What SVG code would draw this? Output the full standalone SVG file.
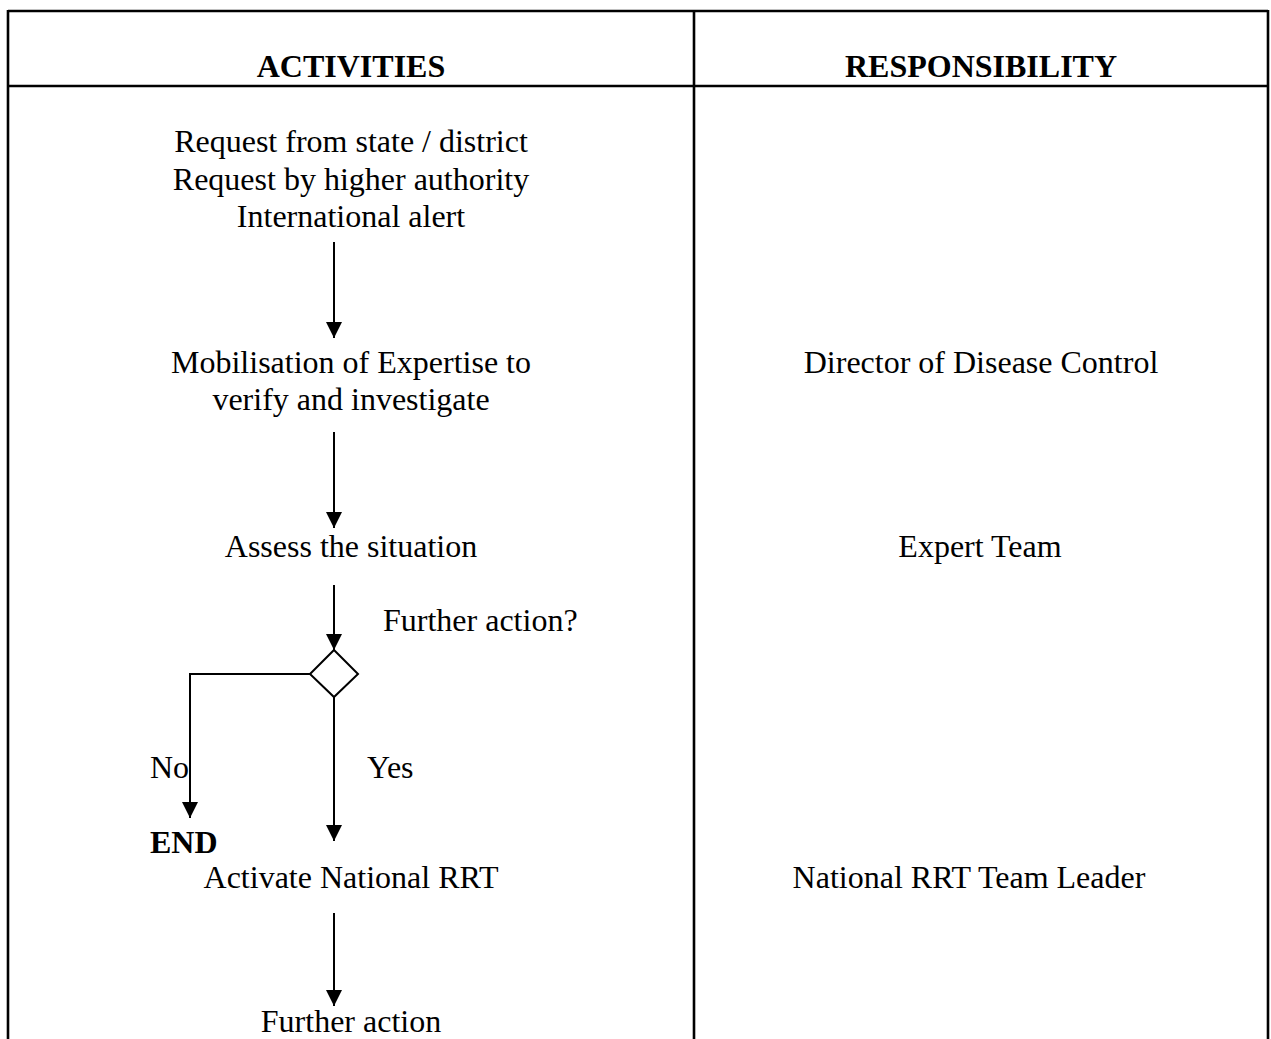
<svg xmlns="http://www.w3.org/2000/svg" width="1271" height="1039" viewBox="0 0 1271 1039">
  <style>
    .grid { stroke: #000; stroke-width: 2.6; fill: none; }
    .txt { font-family: "Liberation Serif", "Times New Roman", serif; font-size: 32px; fill: #000; }
    .mid { text-anchor: middle; }
    .bold { font-weight: bold; }
    .edge { stroke: #000; stroke-width: 2; fill: none; }
  </style>
  <defs>
    <marker id="arrow" markerUnits="userSpaceOnUse" markerWidth="16" markerHeight="16" refX="16" refY="8" orient="auto">
      <path d="M0,0 L16,8 L0,16 z" fill="#000"/>
    </marker>
  </defs>
  <rect width="1271" height="1039" fill="#fff"/>

  <!-- table frame -->
  <g id="table">
    <line class="grid" x1="8" y1="11" x2="1268" y2="11"/>
    <line class="grid" x1="8" y1="86" x2="1268" y2="86"/>
    <line class="grid" x1="8" y1="10" x2="8" y2="1039"/>
    <line class="grid" x1="694" y1="10" x2="694" y2="1039"/>
    <line class="grid" x1="1268" y1="10" x2="1268" y2="1039"/>
    <text class="txt mid bold" x="351" y="77">ACTIVITIES</text>
    <text class="txt mid bold" x="981" y="77">RESPONSIBILITY</text>
  </g>

  <!-- activity nodes -->
  <g id="request">
    <text class="txt mid" x="351" y="152">Request from state / district</text>
    <text class="txt mid" x="351" y="190">Request by higher authority</text>
    <text class="txt mid" x="351" y="227">International alert</text>
  </g>
  <g id="mobilisation">
    <text class="txt mid" x="351" y="373">Mobilisation of Expertise to</text>
    <text class="txt mid" x="351" y="410">verify and investigate</text>
  </g>
  <g id="assess">
    <text class="txt mid" x="351" y="557">Assess the situation</text>
  </g>
  <g id="decision">
    <polygon class="edge" points="334,650 358,674 334,697 310,674"/>
    <text class="txt" x="383" y="631">Further action?</text>
  </g>
  <g id="end">
    <text class="txt bold" x="150" y="853">END</text>
  </g>
  <g id="activate">
    <text class="txt mid" x="351" y="888">Activate National RRT</text>
  </g>
  <g id="further">
    <text class="txt mid" x="351" y="1032">Further action</text>
  </g>

  <!-- responsibility column -->
  <g id="director">
    <text class="txt mid" x="981" y="373">Director of Disease Control</text>
  </g>
  <g id="expert-team">
    <text class="txt mid" x="980" y="557">Expert Team</text>
  </g>
  <g id="team-leader">
    <text class="txt mid" x="969" y="888">National RRT Team Leader</text>
  </g>

  <!-- connectors -->
  <g id="connectors">
    <line class="edge" x1="334" y1="242" x2="334" y2="338" marker-end="url(#arrow)"/>
    <line class="edge" x1="334" y1="432" x2="334" y2="528" marker-end="url(#arrow)"/>
    <line class="edge" x1="334" y1="585" x2="334" y2="650" marker-end="url(#arrow)"/>
    <polyline class="edge" points="310,674 190,674 190,818" marker-end="url(#arrow)"/>
    <line class="edge" x1="334" y1="697" x2="334" y2="841" marker-end="url(#arrow)"/>
    <line class="edge" x1="334" y1="913" x2="334" y2="1006" marker-end="url(#arrow)"/>
    <text class="txt" x="150" y="778">No</text>
    <text class="txt" x="367" y="778">Yes</text>
  </g>
</svg>
